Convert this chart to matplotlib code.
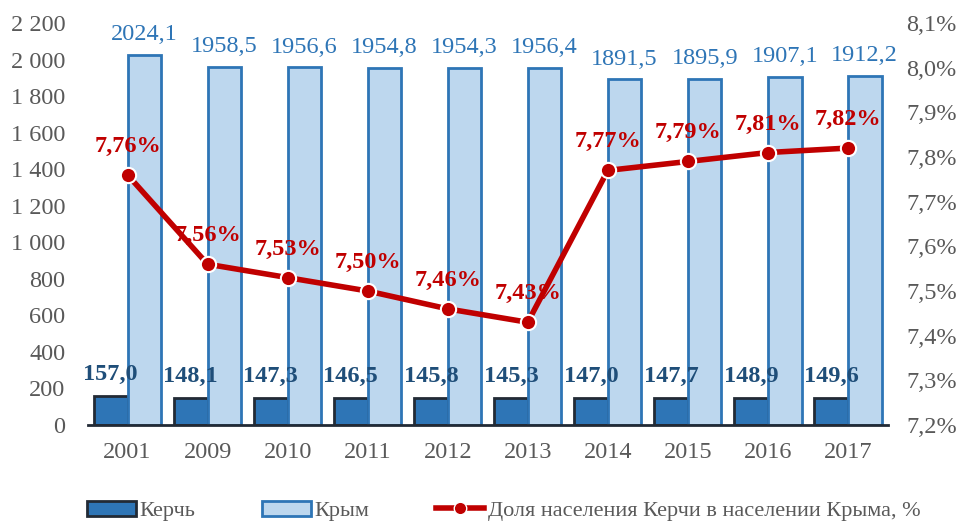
import numpy as np
import matplotlib.pyplot as plt
from matplotlib.patches import Patch
from matplotlib.lines import Line2D
from matplotlib.ticker import FuncFormatter

plt.rcParams['font.family'] = ['Liberation Serif', 'DejaVu Serif']

years = ['2001', '2009', '2010', '2011', '2012', '2013', '2014', '2015', '2016', '2017']
kerch = [157.0, 148.1, 147.3, 146.5, 145.8, 145.3, 147.0, 147.7, 148.9, 149.6]
crimea = [2024.1, 1958.5, 1956.6, 1954.8, 1954.3, 1956.4, 1891.5, 1895.9, 1907.1, 1912.2]
share = [7.76, 7.56, 7.53, 7.50, 7.46, 7.43, 7.77, 7.79, 7.81, 7.82]

dark = '#1F4E79'
mid = '#2E75B6'
light = '#BDD7EE'
red = '#C00000'
gray = '#595959'
fs = 17.5

def comma(v, nd):
    return f'{v:.{nd}f}'.replace('.', ',')

fig = plt.figure(figsize=(9.65, 5.24), dpi=100)
ax = fig.add_axes([87.5/965, 99/524, 800.5/965, 402/524])
x = np.arange(len(years))
w = 0.42

b1 = ax.bar(x - w/2, kerch, w, color=mid, edgecolor='#222A35', linewidth=2)
b2 = ax.bar(x + w/2, crimea, w, color=light, edgecolor=mid, linewidth=2)

for xi, v in zip(x, kerch):
    ax.annotate(comma(v, 1), (xi - w/2, v), xytext=(0, 8), textcoords='offset points',
                ha='center', va='bottom', fontsize=fs, fontweight='bold', color=dark)
for xi, v in zip(x, crimea):
    ax.annotate(comma(v, 1), (xi + w/2, v), xytext=(0, 7), textcoords='offset points',
                ha='center', va='bottom', fontsize=fs, color=mid)

ax.set_ylim(0, 2200)
ax.set_yticks(np.arange(0, 2201, 200))
ax.yaxis.set_major_formatter(FuncFormatter(lambda v, p: f'{int(v):,}'.replace(',', ' ')))
ax.set_xlim(-0.5, len(years) - 0.5)
ax.set_xticks(x)
ax.set_xticklabels(years)
ax.tick_params(length=0, labelsize=fs, labelcolor=gray)
ax.tick_params(axis='x', pad=12)
ax.tick_params(axis='y', pad=16)
for s in ['top', 'right', 'left']:
    ax.spines[s].set_visible(False)
ax.spines['bottom'].set_color('#222A35')
ax.spines['bottom'].set_linewidth(2)

ax2 = ax.twinx()
ax2.plot(x, share, color=red, linewidth=4, marker='o', markersize=11,
         markerfacecolor=red, markeredgecolor='white', markeredgewidth=1.5)
for xi, v in zip(x, share):
    ax2.annotate(comma(v, 2) + '%', (xi, v), xytext=(0, 13), textcoords='offset points',
                 ha='center', va='bottom', fontsize=fs, fontweight='bold', color=red)
ax2.set_ylim(7.2, 8.1)
ax2.set_yticks(np.arange(7.2, 8.11, 0.1))
ax2.yaxis.set_major_formatter(FuncFormatter(lambda v, p: comma(v, 1) + '%'))
ax2.tick_params(length=0, labelsize=fs, labelcolor=gray, pad=13)
for s in ['top', 'right', 'left', 'bottom']:
    ax2.spines[s].set_visible(False)

handles = [Patch(facecolor=mid, edgecolor='#222A35', linewidth=2, label='Керчь'),
           Patch(facecolor=light, edgecolor=mid, linewidth=2, label='Крым'),
           Line2D([0], [0], color=red, linewidth=4, marker='o', markersize=9,
                  markerfacecolor=red, markeredgecolor='white',
                  label='Доля населения Керчи в населении Крыма, %')]
leg = fig.legend(handles=handles, loc='center', bbox_to_anchor=(0.522, 0.025), ncol=3,
                 frameon=False, fontsize=16, handlelength=2.2, columnspacing=3.0,
                 handletextpad=0.15)
for t in leg.get_texts():
    t.set_color(gray)

fig.savefig('out.png', dpi=100)
